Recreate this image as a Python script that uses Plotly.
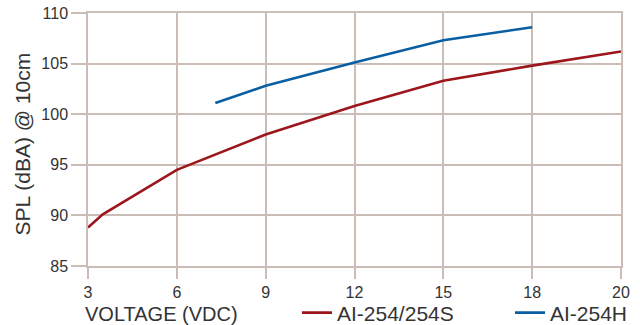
import numpy as np
import plotly.graph_objects as go

# Tick voltages (axis is evenly spaced per tick)
tick_volts = [3, 6, 9, 12, 15, 18, 20]
tick_labels = ["3", "6", "9", "12", "15", "18", "20"]
y_ticks = [85, 90, 95, 100, 105, 110]

# AI-254/254S
red_volts = [3, 3.5, 6, 9, 12, 15, 18, 20]
red_spl = [88.8, 90.1, 94.5, 98.0, 100.8, 103.3, 104.8, 106.2]

# AI-254H
blue_volts = [7.3, 9, 12, 15, 18]
blue_spl = [101.1, 102.8, 105.1, 107.3, 108.6]

positions = list(range(len(tick_volts)))


def to_pos(v):
    return np.interp(v, tick_volts, positions)


GRID = "#c9bdb5"
TXT = "#333333"
FONT = "Liberation Sans, Arial, sans-serif"

fig = go.Figure()
fig.add_trace(go.Scatter(x=to_pos(red_volts), y=red_spl, mode="lines", name="AI-254/254S",
                         line=dict(color="#9c161c", width=2.6)))
fig.add_trace(go.Scatter(x=to_pos(blue_volts), y=blue_spl, mode="lines", name="AI-254H",
                         line=dict(color="#0a5fa3", width=2.6)))

fig.update_layout(
    width=640, height=325,
    margin=dict(l=88, r=19, t=13, b=59, autoexpand=False),
    paper_bgcolor="white", plot_bgcolor="white",
    font=dict(family=FONT, color=TXT, size=16),
    showlegend=True,
    legend=dict(orientation="h", xref="container", yref="container",
                x=297 / 640, xanchor="left", y=1 - 313 / 325, yanchor="middle",
                font=dict(size=21, color=TXT), itemwidth=30, traceorder="normal",
                entrywidth=168, entrywidthmode="pixels",
                bgcolor="rgba(0,0,0,0)"),
    xaxis=dict(range=[0, 6], tickmode="array", tickvals=positions, ticktext=tick_labels,
               showgrid=True, gridcolor=GRID, gridwidth=1.5,
               ticks="outside", ticklen=11, tickcolor=GRID, tickwidth=1.5,
               showline=True, linecolor=GRID, linewidth=1.5, mirror=True,
               zeroline=False, tickfont=dict(size=16, color=TXT), fixedrange=True,
               automargin=False),
    yaxis=dict(range=[85, 110], tickmode="array", tickvals=y_ticks,
               showgrid=True, gridcolor=GRID, gridwidth=1.5,
               ticks="outside", ticklen=15, tickcolor=GRID, tickwidth=1.5,
               showline=True, linecolor=GRID, linewidth=1.5, mirror=True,
               zeroline=False, tickfont=dict(size=16, color=TXT),
               fixedrange=True, automargin=False),
    annotations=[
        dict(text="VOLTAGE (VDC)", xref="paper", yref="paper", x=-0.01, y=-0.19,
             xanchor="left", yanchor="middle", showarrow=False,
             font=dict(size=20, color=TXT)),
        dict(text="SPL (dBA) @ 10cm", xref="paper", yref="paper", x=-0.122, y=0.484,
             xanchor="center", yanchor="middle", textangle=-90, showarrow=False,
             font=dict(size=21, color=TXT)),
    ],
)

fig.write_html("out.html", config={"displayModeBar": False},
               post_script="document.body.style.margin='0';document.body.style.overflow='hidden';")
